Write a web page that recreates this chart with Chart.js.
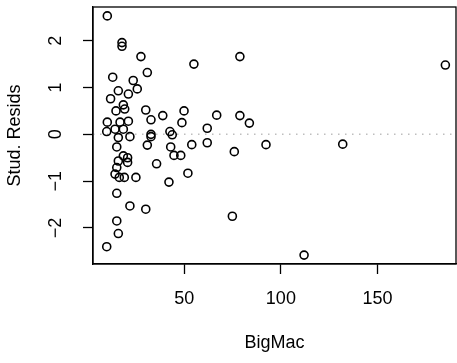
<!DOCTYPE html>
<html>
<head>
<meta charset="utf-8">
<script src="https://cdn.jsdelivr.net/npm/chart.js@4/dist/chart.umd.min.js"></script>
<style>
html,body{margin:0;padding:0;background:#fff;}
canvas{display:block;}
</style>
</head>
<body>
<canvas id="c" width="457" height="363"></canvas>
<script>
// BigMac (x) values and studentized residuals (y)
const bigMac = [10.2, 17.8, 17.8, 27.6, 13.0, 23.6, 30.9, 15.9, 25.7, 11.9,
  21.1, 18.5, 14.7, 19.2, 30.1, 32.8, 10.2, 16.8, 21.1, 9.9,
  14.2, 18.5, 32.8, 32.8, 15.9, 21.9, 30.9, 15.1, 18.5, 20.7,
  20.7, 15.9, 35.7, 15.1, 14.2, 16.4, 19.0, 25.0, 15.1, 21.9,
  30.1, 15.1, 15.9, 9.9, 55.0, 78.8, 38.9, 49.9, 48.8, 66.8,
  78.8, 83.7, 61.9, 42.6, 43.8, 43.0, 53.9, 61.9, 75.9, 92.3,
  44.7, 48.2, 51.9, 42.1, 74.9, 185.1, 132.0, 112.0];
const studResids = [2.53, 1.96, 1.88, 1.66, 1.22, 1.15, 1.32, 0.93, 0.97, 0.76,
  0.86, 0.63, 0.50, 0.54, 0.52, 0.31, 0.26, 0.26, 0.28, 0.06,
  0.11, 0.11, 0.00, -0.05, -0.07, -0.05, -0.23, -0.27, -0.46, -0.50,
  -0.60, -0.57, -0.63, -0.71, -0.85, -0.92, -0.92, -0.92, -1.26, -1.53,
  -1.60, -1.85, -2.12, -2.40, 1.50, 1.66, 0.40, 0.50, 0.25, 0.41,
  0.40, 0.24, 0.13, 0.06, -0.01, -0.27, -0.22, -0.18, -0.37, -0.22,
  -0.45, -0.45, -0.83, -1.02, -1.75, 1.48, -0.21, -2.58];
const xTicks = [50, 100, 150];
const yTicks = [-2, -1, 0, 1, 2];
const xTitle = 'BigMac';
const yTitle = 'Stud. Resids';

const points = bigMac.map((x, i) => ({x: x, y: studResids[i]}));
const FONT = {family: '"Liberation Sans", Arial, Helvetica, sans-serif', size: 18};
const fmt = v => (v < 0 ? '\u2212' + Math.abs(v) : String(v));

const extras = {
  id: 'extras',
  beforeDatasetsDraw(chart) {
    const {ctx, chartArea: a, scales} = chart;
    const y0 = scales.y.getPixelForValue(0);
    ctx.save();
    ctx.strokeStyle = '#bebebe';
    ctx.lineWidth = 1.5;
    ctx.setLineDash([1.5, 5.5]);
    ctx.beginPath();
    ctx.moveTo(a.left, y0);
    ctx.lineTo(a.right, y0);
    ctx.stroke();
    ctx.restore();
  },
  afterDraw(chart) {
    const {ctx, chartArea: a} = chart;
    ctx.save();
    ctx.strokeStyle = '#000';
    ctx.lineWidth = 1.3;
    ctx.strokeRect(a.left, a.top, a.right - a.left, a.bottom - a.top);
    ctx.restore();
  }
};

new Chart(document.getElementById('c'), {
  type: 'scatter',
  data: {
    datasets: [{
      data: points,
      pointStyle: 'circle',
      pointRadius: 4,
      pointHoverRadius: 4,
      pointBorderWidth: 1.6,
      pointBorderColor: '#000',
      pointBackgroundColor: 'rgba(0,0,0,0)'
    }]
  },
  options: {
    responsive: false,
    animation: false,
    devicePixelRatio: 1,
    layout: {autoPadding: false, padding: {left: 0, right: 1, top: 7, bottom: 0}},
    plugins: {legend: {display: false}, tooltip: {enabled: false}},
    scales: {
      x: {
        type: 'linear',
        min: 2.8,
        max: 190.6,
        afterBuildTicks: s => { s.ticks = xTicks.map(v => ({value: v})); },
        afterFit: s => { s.height = 99; s.paddingLeft = 0; s.paddingRight = 0; },
        grid: {display: true, drawOnChartArea: false, drawTicks: true, tickLength: 10, color: '#000', tickWidth: 1.3, tickColor: '#000'},
        border: {display: true, color: '#000', width: 1.3},
        ticks: {color: '#000', font: FONT, padding: 14, autoSkip: false, maxRotation: 0, callback: v => fmt(v)},
        title: {display: true, text: xTitle, color: '#000', font: FONT, padding: {top: 0, bottom: 9}}
      },
      y: {
        type: 'linear',
        min: -2.77,
        max: 2.72,
        afterBuildTicks: s => { s.ticks = yTicks.map(v => ({value: v})); },
        afterFit: s => { s.width = 93; s.paddingTop = 0; s.paddingBottom = 0; },
        grid: {display: true, drawOnChartArea: false, drawTicks: true, tickLength: 10, color: '#000', tickWidth: 1.3, tickColor: '#000'},
        border: {display: true, color: '#000', width: 1.3},
        ticks: {color: '#000', font: FONT, padding: 17, autoSkip: false, minRotation: 90, maxRotation: 90, crossAlign: 'center', callback: v => fmt(v)},
        title: {display: true, text: yTitle, color: '#000', font: FONT, padding: {top: 4, bottom: 0}}
      }
    }
  },
  plugins: [extras]
});
</script>
</body>
</html>
